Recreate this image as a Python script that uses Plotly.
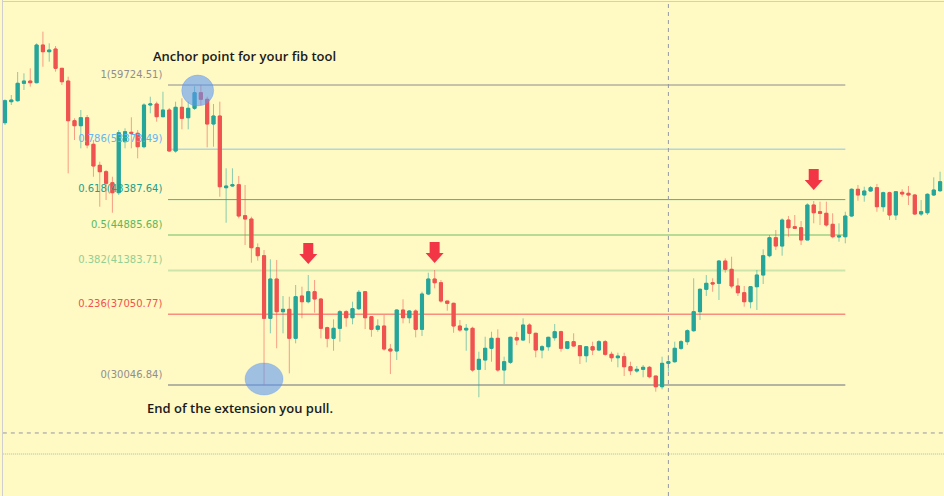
import plotly.graph_objects as go

# ---------------- data ----------------
open_ = [
    55994, 58072, 58171, 59892, 60120, 59952, 63681, 63018, 63285, 61376,
    60120, 56192, 55697, 56489, 53857, 51780, 51147, 50058, 49069, 54115,
    55044, 54946, 53620, 57745, 57844, 56588, 57251, 53195, 57518, 56489,
    57419, 58962, 58309, 55866, 56657, 49564, 49732, 49861, 46794, 46467,
    43628, 42837, 36643, 40532, 37297, 37534, 34665, 38850, 38286, 39275,
    38553, 35714, 34665, 35654, 37297, 36703, 37593, 39275, 36802, 35555,
    35882, 33606, 33409, 37465, 36703, 37366, 35555, 39048, 40532, 40165,
    38355, 38127, 35882, 35486, 35654, 31598, 32518, 33676, 34665, 31529,
    32291, 34724, 34497, 35981, 35160, 33507, 33834, 34724, 35318, 33676,
    34329, 33933, 32944, 33834, 33507, 34329, 33082, 32746, 32845, 31855,
    31430, 31598, 31796, 30935, 29877, 32191, 32350, 33676, 34329, 35417,
    37297, 39513, 40165, 40106, 42312, 41491, 39839, 39176, 38286, 39770,
    40927, 42837, 44617, 43796, 46368, 45706, 45607, 44390, 47852, 47190,
    47031, 45943, 44687, 44716, 46764, 49406, 48842, 49237, 49564, 47684,
    49069, 46863, 49109, 49010, 48842, 46962, 47090, 48842, 49267]

close = [
    58171, 58240, 59892, 60120, 59952, 63681, 63018, 63186, 61376, 60050,
    56192, 55697, 56489, 53788, 51711, 51147, 49999, 49069, 55005, 55104,
    54946, 53620, 57745, 57844, 56588, 57251, 53195, 57518, 56430, 57419,
    58962, 58309, 55866, 56657, 49663, 49732, 49861, 46764, 46467, 43628,
    42837, 36643, 40532, 37297, 37534, 34665, 38781, 38286, 39275, 38553,
    35654, 34665, 35654, 37297, 36703, 37593, 39216, 36703, 35555, 35882,
    33606, 33409, 37465, 36703, 37366, 35555, 39048, 40532, 40165, 38355,
    38127, 35882, 35486, 35654, 31529, 32587, 33676, 34665, 31529, 32350,
    34764, 34497, 35981, 35160, 33507, 33834, 34764, 35318, 33676, 34329,
    33903, 32944, 33834, 33507, 34329, 33082, 32746, 32914, 31855, 31460,
    31598, 31796, 30866, 29877, 32191, 32350, 33676, 34329, 35417, 37297,
    39513, 40106, 40037, 42312, 41491, 39839, 39176, 38286, 39770, 40927,
    42837, 44617, 43796, 46368, 45607, 45547, 44390, 47852, 47090, 47031,
    45874, 44716, 44786, 46764, 49406, 48842, 49237, 49564, 47684, 49069,
    46863, 49168, 48941, 48842, 46962, 47190, 48911, 49336, 50157]

high = [
    58309, 58735, 61010, 60881, 61376, 63849, 64997, 63849, 63582, 61376,
    60545, 56430, 57251, 56756, 54283, 52136, 51315, 50652, 55272, 55440,
    56528, 55272, 57913, 58566, 58072, 59061, 57449, 58072, 58408, 58072,
    59600, 59724.51, 58566, 57844, 58072, 51483, 51483, 50721, 49831, 46695,
    44063, 43400, 42480, 42411, 38850, 38781, 39938, 39770, 40927, 40433,
    38622, 35813, 36545, 37465, 37465, 38286, 39443, 39344, 36871, 36545,
    36970, 34101, 37534, 38523, 37465, 37534, 39275, 41154, 41422, 40433,
    38355, 38187, 36475, 36080, 35813, 33339, 34823, 35318, 35555, 32845,
    34823, 35318, 36643, 36149, 35219, 34002, 34823, 36080, 35417, 34329,
    35160, 34002, 33903, 34329, 34497, 34497, 33339, 33240, 33240, 32350,
    31925, 32024, 31925, 30935, 32845, 33013, 34329, 34497, 35555, 40601,
    39611, 40927, 40601, 42411, 42579, 42738, 40601, 39839, 39839, 41422,
    43470, 44884, 45379, 46536, 46764, 46863, 46269, 48021, 48248, 48179,
    48179, 47031, 46042, 47190, 49505, 49831, 49663, 49732, 49930, 49168,
    49168, 49168, 49406, 49732, 48941, 48347, 49010, 50593, 51147]

low = [
    55767, 57745, 58072, 59229, 59556, 59892, 61534, 62029, 61040, 59724,
    50988, 54283, 53462, 53462, 50652, 47684, 48347, 47090, 48842, 53462,
    53462, 52472, 53462, 56924, 56093, 56528, 53125, 53026, 55341, 55341,
    57251, 57745, 53561, 53620, 48673, 46101, 49663, 46536, 43895, 42144,
    42342, 30046.84, 35160, 33676, 35160, 31202, 34170, 36643, 38127, 37197,
    34665, 33774, 33438, 34329, 35813, 36050, 37465, 35585, 34823, 35318,
    33438, 31133, 32518, 36149, 36149, 34764, 34893, 38949, 39611, 38187,
    37395, 35219, 35318, 33438, 31361, 28828, 31529, 32350, 31361, 30144,
    32122, 34002, 34428, 34170, 32785, 32686, 33438, 34428, 33339, 33577,
    33834, 32122, 32291, 33013, 33438, 32944, 32350, 31796, 30935, 31034,
    31262, 30807, 30708, 29382, 29619, 31361, 32251, 33507, 34002, 35318,
    36475, 38850, 39275, 38454, 41154, 39611, 38850, 37791, 37633, 37465,
    40037, 42678, 43400, 42837, 44716, 45478, 43895, 44390, 46042, 45874,
    45706, 44558, 44222, 44063, 46695, 48278, 48179, 49168, 47190, 47190,
    46368, 46368, 48673, 47852, 46863, 46764, 46863, 48743, 49138]

# Fibonacci tool
fib_high = 59724.51
fib_low = 30046.84
fib_levels = [1, 0.786, 0.618, 0.5, 0.382, 0.236, 0]
fib_text_colors = ["#8f8f8f", "#64B5F6", "#21a08c", "#5cb85c", "#93cf93", "#F0524F", "#8f8f8f"]
fib_line_colors = ["rgba(120,123,134,0.85)", "rgba(100,181,246,0.5)", "rgba(8,153,129,0.75)",
                   "rgba(76,175,80,0.4)", "rgba(129,199,132,0.4)", "rgba(242,54,69,0.55)",
                   "rgba(120,123,134,0.55)"]
fib_line_widths = [1, 1.5, 1, 2, 2, 1.5, 2]
fib_x_start = 25.8          # candle index where the fib lines begin
fib_x_end = 133.0           # candle index where the fib lines end
fib_label_x = 24.9
fib_label_lift = 480        # labels sit slightly above their level (price units)

anchor_high_idx = 30.5      # anchor (point 1) of fib tool
anchor_low_idx = 41         # end of the extension (point 0)

arrow_idx = [48, 68, 128]   # candles flagged by red arrows
arrow_gap = [11, 7, 11]

crosshair_idx = 105
crosshair_price = 25300

x_range = [-0.7914, 148.62]
y_range = [19066.1, 68133.2]

BG = "#FFF9C4"
UP = "#26A69A"
DOWN = "#EF5350"

n = len(open_)
xs = list(range(n))
body_hi = [max(o, c) for o, c in zip(open_, close)]
body_lo = [min(o, c) for o, c in zip(open_, close)]

fig = go.Figure()

# fib labels (drawn beneath candles)
span = fib_high - fib_low
label_text = [f"{lv:g}({fib_low + lv * span + 1e-7:.2f})" for lv in fib_levels]
label_y = [fib_low + lv * span + fib_label_lift for lv in fib_levels]
fig.add_trace(go.Scatter(
    x=[fib_label_x] * len(fib_levels), y=label_y, mode="text",
    text=label_text, textposition="top left",
    textfont=dict(family="DejaVu Sans", size=10, color=fib_text_colors),
    hoverinfo="skip", showlegend=False))

# wicks
fig.add_trace(go.Candlestick(
    x=xs, open=open_, high=high, low=low, close=close,
    increasing=dict(line=dict(color="rgba(38,166,154,0.55)", width=1), fillcolor=UP),
    decreasing=dict(line=dict(color="rgba(239,83,80,0.55)", width=1), fillcolor=DOWN),
    whiskerwidth=0, hoverinfo="skip", showlegend=False))
# bodies
fig.add_trace(go.Candlestick(
    x=xs, open=open_, high=body_hi, low=body_lo, close=close,
    increasing=dict(line=dict(color=UP, width=1), fillcolor=UP),
    decreasing=dict(line=dict(color=DOWN, width=1), fillcolor=DOWN),
    whiskerwidth=0, hoverinfo="skip", showlegend=False))

shapes = []
for lv, col, w in zip(fib_levels, fib_line_colors, fib_line_widths):
    yv = fib_low + lv * span
    shapes.append(dict(type="line", xref="x", yref="y", x0=fib_x_start, x1=fib_x_end,
                       y0=yv, y1=yv, line=dict(color=col, width=w), layer="below"))

# anchor circles
circle_fill = "rgba(90,150,245,0.58)"
shapes.append(dict(type="circle", xref="x", yref="y", xsizemode="pixel", ysizemode="pixel",
                   xanchor=anchor_high_idx, yanchor=fib_high, x0=-16, x1=16, y0=-21, y1=10,
                   fillcolor=circle_fill, line=dict(color="rgba(90,150,245,0.3)", width=1)))
shapes.append(dict(type="circle", xref="x", yref="y", xsizemode="pixel", ysizemode="pixel",
                   xanchor=anchor_low_idx, yanchor=fib_low, x0=-19, x1=19, y0=-10, y1=22,
                   fillcolor=circle_fill, line=dict(color="rgba(90,150,245,0.3)", width=1)))

# red arrows
for ai, g in zip(arrow_idx, arrow_gap):
    path = (f"M 0,{g} L 9,{g+10} L 5,{g+10} L 5,{g+21} L -5,{g+21} "
            f"L -5,{g+10} L -9,{g+10} Z")
    shapes.append(dict(type="path", xref="x", yref="y", xsizemode="pixel", ysizemode="pixel",
                       xanchor=ai, yanchor=high[ai], path=path,
                       fillcolor="#F23645", line=dict(width=0)))

# crosshair
shapes.append(dict(type="line", xref="x", yref="paper", x0=crosshair_idx, x1=crosshair_idx,
                   y0=0, y1=1, line=dict(color="#9598A1", width=1, dash="4px,4px")))
shapes.append(dict(type="line", xref="paper", yref="y", x0=0.003, x1=1,
                   y0=crosshair_price, y1=crosshair_price,
                   line=dict(color="#9598A1", width=1, dash="4px,4px")))
shapes.append(dict(type="line", xref="paper", yref="paper", x0=0.003, x1=1,
                   y0=1 - 454 / 496, y1=1 - 454 / 496,
                   line=dict(color="rgba(90,170,150,0.6)", width=1, dash="1px,1px")))
# frame
shapes.append(dict(type="line", xref="paper", yref="paper", x0=2.5 / 944, x1=2.5 / 944,
                   y0=0, y1=1, line=dict(color="#CFCFCF", width=1)))
shapes.append(dict(type="line", xref="paper", yref="paper", x0=2.5 / 944, x1=1,
                   y0=1 - 1.5 / 496, y1=1 - 1.5 / 496, line=dict(color="#CFCFCF", width=1)))

annotations = [
    dict(text="Anchor point for your fib tool", xref="paper", yref="paper",
         x=151 / 944, y=1 - 56 / 496, xanchor="left", yanchor="middle", showarrow=False,
         font=dict(family="Open Sans", size=13, color="#1a1a1a", weight=600)),
    dict(text="End of the extension you pull.", xref="paper", yref="paper",
         x=145 / 944, y=1 - 408 / 496, xanchor="left", yanchor="middle", showarrow=False,
         font=dict(family="Open Sans", size=13, color="#1a1a1a", weight=600)),
]

fig.update_layout(
    width=944, height=496, autosize=False,
    margin=dict(l=0, r=0, t=0, b=0),
    paper_bgcolor=BG, plot_bgcolor=BG,
    shapes=shapes, annotations=annotations,
    showlegend=False, boxgap=0.3,
    xaxis=dict(range=x_range, visible=False, rangeslider=dict(visible=False), fixedrange=True),
    yaxis=dict(range=y_range, visible=False, fixedrange=True),
)

fig.write_html("out.html", config={"displayModeBar": False})
